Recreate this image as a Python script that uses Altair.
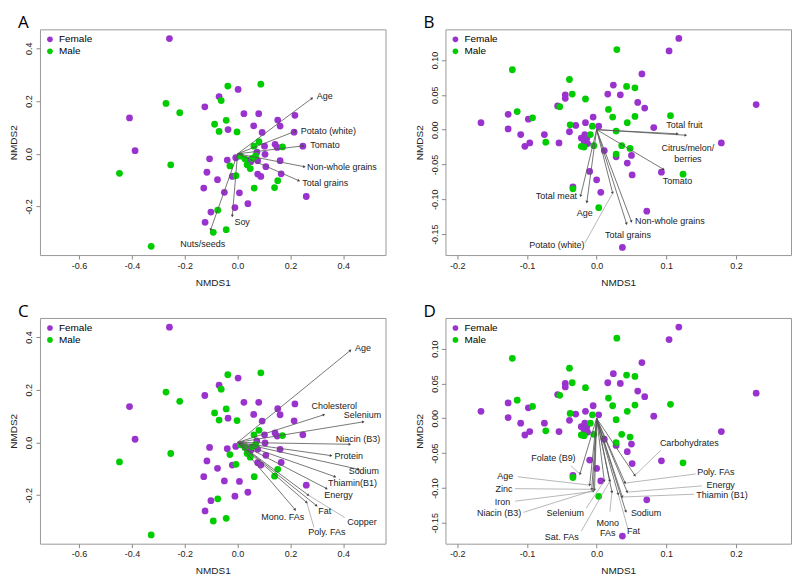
import math
import altair as alt
import pandas as pd

# ---------------- data: ordination of food groups / nutrients (A and C share points) ----------
a_fem_x = [-0.258, -0.409, -0.388, 0.002, -0.070, -0.124, 0.024, 0.080, 0.217, 0.152, 0.161, 0.061,
           -0.036, 0.093, 0.214, 0.247, 0.102, 0.142, 0.150, 0.073, 0.104, 0.042, 0.050, 0.076,
           -0.106, -0.039, -0.007, 0.161, 0.107, 0.165, 0.076, 0.088, -0.116, -0.076, -0.020,
           -0.128, -0.050, 0.007, 0.260, 0.039, -0.010, -0.101, -0.123]
a_fem_y = [0.437, 0.136, 0.012, 0.244, 0.217, 0.178, 0.152, 0.152, 0.146, 0.128, 0.105, 0.106,
           0.092, 0.081, 0.082, 0.029, 0.029, 0.036, 0.024, 0.006, -0.002, -0.024, -0.030, -0.026,
           -0.019, -0.024, -0.015, -0.026, -0.049, -0.076, -0.077, -0.086, -0.070, -0.098, -0.086,
           -0.130, -0.146, -0.148, -0.162, -0.189, -0.204, -0.221, -0.260]
a_male_x = [-0.037, 0.088, -0.271, -0.062, -0.219, -0.087, -0.043, -0.070, -0.002, 0.081, 0.062,
            0.170, 0.011, 0.055, 0.036, 0.048, -0.029, -0.253, -0.447, -0.006, 0.152, 0.063, 0.140,
            -0.075, -0.092, -0.043, -0.327, 0.068, 0.028]
a_male_y = [0.257, 0.264, 0.191, 0.202, 0.156, 0.112, 0.127, 0.085, 0.083, 0.046, 0.029, 0.026,
            -0.009, -0.017, -0.042, -0.056, -0.046, -0.042, -0.074, -0.083, -0.102, -0.130, -0.128,
            -0.214, -0.298, -0.288, -0.351, -0.008, -0.020]

b_fem_x = [0.118, 0.104, 0.065, 0.024, 0.016, 0.034, 0.059, 0.069, 0.229, -0.045, -0.045, -0.056,
           -0.127, -0.166, -0.127, -0.098, -0.109, -0.096, -0.103, -0.075, -0.054, -0.039, -0.030,
           -0.016, -0.005, 0.003, -0.022, -0.018, -0.014, -0.013, -0.017, 0.082, 0.179, 0.011,
           0.028, 0.050, 0.044, 0.051, 0.093, -0.010, 0.000, -0.034, 0.006, 0.072, 0.037]
b_fem_y = [0.131, 0.113, 0.080, 0.064, 0.051, 0.050, 0.039, 0.031, 0.036, 0.050, 0.045, 0.034,
           0.022, 0.010, 0.001, 0.015, -0.007, -0.019, -0.024, -0.007, -0.019, -0.003, 0.006,
           0.010, 0.018, 0.005, -0.012, -0.016, -0.012, -0.020, -0.007, 0.003, -0.019, -0.030,
           -0.039, -0.037, -0.048, -0.065, -0.061, -0.060, -0.072, -0.082, -0.090, -0.117, -0.169]
b_male_x = [0.029, -0.121, -0.039, -0.035, -0.016, 0.043, 0.055, 0.017, 0.023, 0.055, 0.044, 0.106,
            -0.114, -0.092, -0.053, -0.038, -0.006, -0.073, -0.009, 0.028, -0.022, -0.018, -0.004,
            0.036, 0.048, 0.028, 0.124, -0.034, 0.003]
b_male_y = [0.115, 0.086, 0.072, 0.051, 0.044, 0.062, 0.060, 0.029, 0.018, 0.019, 0.010, 0.020,
            0.026, 0.017, 0.033, 0.007, 0.005, -0.018, -0.007, -0.002, -0.024, -0.025, -0.023,
            -0.023, -0.027, -0.035, -0.064, -0.085, -0.112]

# ---------------- arrows (fitted vectors) ----------------
a_names = ["Age", "Potato (white)", "Tomato", "Non-whole grains", "Total grains", "Soy", "Nuts/seeds"]
a_end_x = [0.282, 0.220, 0.247, 0.253, 0.232, -0.020, -0.102]
a_end_y = [0.211, 0.086, 0.030, -0.049, -0.102, -0.236, -0.288]
a_lab_x = [0.300, 0.239, 0.275, 0.263, 0.245, -0.012, -0.132]
a_lab_y = [0.219, 0.085, 0.032, -0.050, -0.109, -0.258, -0.341]
a_align = ["left", "left", "left", "left", "left", "left", "center"]

b_names = ["Total fruit", "Citrus/melon/\nberries", "Tomato", "Total meat", "Age", "Potato (white)",
           "Total grains", "Non-whole grains"]
b_end_x = [0.116, 0.128, 0.096, -0.023, -0.014, 0.023, 0.043, 0.050]
b_end_y = [-0.006, -0.008, -0.057, -0.095, -0.104, -0.091, -0.135, -0.132]
b_lab_x = [0.126, 0.131, 0.116, -0.028, -0.017, -0.057, 0.045, 0.055]
b_lab_y = [0.007, -0.027, -0.074, -0.095, -0.119, -0.165, -0.151, -0.131]
b_align = ["center", "center", "center", "right", "center", "center", "center", "left"]
b_lead_x = [None, None, None, None, None, -0.017, None, None]
b_lead_y = [None, None, None, None, None, -0.163, None, None]

c_names = ["Age", "Cholesterol", "Selenium", "Niacin (B3)", "Protein", "Sodium", "Thiamin(B1)",
           "Energy", "Copper", "Fat", "Poly. FAs", "Mono. FAs"]
c_end_x = [0.427, 0.327, 0.476, 0.425, 0.354, 0.458, 0.369, 0.337, 0.268, 0.299, 0.262, 0.218]
c_end_y = [0.349, 0.105, 0.078, -0.007, -0.050, -0.102, -0.130, -0.175, -0.200, -0.240, -0.228, -0.255]
c_lab_x = [0.475, 0.366, 0.473, 0.456, 0.421, 0.478, 0.435, 0.382, 0.471, 0.330, 0.338, 0.171]
c_lab_y = [0.359, 0.139, 0.104, 0.012, -0.050, -0.109, -0.155, -0.198, -0.303, -0.260, -0.338, -0.282]
c_align = ["center"] * 12
c_lead_x = [None] * 8 + [0.406, None, 0.289, None]
c_lead_y = [None] * 8 + [-0.285, None, -0.322, None]

d_names = ["Carbohydrates", "Poly. FAs", "Energy", "Thiamin (B1)", "Sodium", "Fat", "Mono\nFAs",
           "Sat. FAs", "Selenium", "Folate (B9)", "Age", "Zinc", "Iron", "Niacin (B3)"]
d_end_x = [0.055, 0.041, 0.044, 0.037, 0.042, 0.031, 0.022, 0.019, 0.011, -0.024, -0.010, -0.007, -0.005, -0.003]
d_end_y = [-0.082, -0.093, -0.106, -0.113, -0.134, -0.109, -0.106, -0.090, -0.090, -0.080, -0.096, -0.102, -0.105, -0.103]
d_lab_x = [0.133, 0.171, 0.178, 0.180, 0.071, 0.053, 0.016, -0.050, -0.045, -0.062, -0.131, -0.133, -0.135, -0.140]
d_lab_y = [-0.036, -0.077, -0.096, -0.110, -0.136, -0.162, -0.150, -0.170, -0.136, -0.057, -0.083, -0.102, -0.120, -0.136]
d_align = ["center"] * 14
d_lead_x = [0.092, 0.142, 0.151, 0.140, None, 0.045, 0.019, -0.022, -0.015, -0.037, -0.113, -0.117, -0.117, -0.105]
d_lead_y = [-0.046, -0.080, -0.097, -0.109, None, -0.159, -0.134, -0.162, -0.129, -0.068, -0.084, -0.101, -0.119, -0.135]

a_xdom, a_ydom = [-0.748, 0.560], [-0.384, 0.472]
b_xdom, b_ydom = [-0.217, 0.279], [-0.180, 0.144]
a_xticks, a_yticks = [-0.6, -0.4, -0.2, 0.0, 0.2, 0.4], [-0.2, 0.0, 0.2, 0.4]
b_xticks, b_yticks = [-0.2, -0.1, 0.0, 0.1, 0.2], [-0.15, -0.10, -0.05, 0.0, 0.05, 0.10]

W, H = 346, 226
FONT = "Liberation Sans"
PURPLE, GREEN = "#9A32CD", "#00CD00"


def panel(letter, fx, fy, mx, my, names, ex, ey, lx, ly, aligns, leadx, leady,
          xdom, ydom, xticks, yticks, xfmt, yfmt):
    pts = pd.DataFrame({
        "x": fx + mx, "y": fy + my,
        "Sex": ["Female"] * len(fx) + ["Male"] * len(mx),
    })
    sx = W / (xdom[1] - xdom[0])
    sy = H / (ydom[1] - ydom[0])
    arr = pd.DataFrame({"name": names, "ex": ex, "ey": ey, "lx": lx, "ly": ly, "align": aligns})
    arr["ox"] = 0.0
    arr["oy"] = 0.0
    arr["angle"] = [(math.degrees(math.atan2(-b * sy, a * sx)) + 360) % 360 for a, b in zip(ex, ey)]
    lead = pd.DataFrame({"sx": leadx, "sy": leady, "ex": ex, "ey": ey}).dropna()

    xaxis = alt.Axis(values=xticks, title="NMDS1", grid=False, domain=False,
                     labelExpr=f"replace(format(datum.value, '{xfmt}'), '\u2212', '-')",
                     tickColor="#888", tickSize=4, labelPadding=2, titlePadding=7)
    yaxis = alt.Axis(values=yticks, title="NMDS2", grid=False, domain=False,
                     labelExpr=f"replace(format(datum.value, '{yfmt}'), '\u2212', '-')",
                     labelAngle=-90, labelAlign="center", labelBaseline="bottom",
                     tickColor="#888", tickSize=4, labelPadding=2, titlePadding=6)
    xs = alt.Scale(domain=xdom, nice=False, zero=False)
    ys = alt.Scale(domain=ydom, nice=False, zero=False)

    def X(f):
        return alt.X(f, type="quantitative", scale=xs, axis=xaxis)

    def Y(f):
        return alt.Y(f, type="quantitative", scale=ys, axis=yaxis)

    points = alt.Chart(pts).mark_circle(size=46, opacity=1).encode(
        x=X("x"), y=Y("y"),
        color=alt.Color("Sex:N", scale=alt.Scale(domain=["Female", "Male"], range=[PURPLE, GREEN]),
                        legend=alt.Legend(orient="top-left", title=None, symbolType="circle",
                                          symbolSize=32, labelFontSize=10, labelFont=FONT,
                                          labelColor="black", offset=4, padding=1, rowPadding=2,
                                          symbolStrokeWidth=0)),
    )
    rules = alt.Chart(arr).mark_rule(color="#555", strokeWidth=0.8).encode(
        x=X("ox"), y=Y("oy"), x2="ex", y2="ey")
    heads = alt.Chart(arr).mark_point(shape="triangle-right", filled=True, size=9,
                                      color="#444", opacity=1).encode(
        x=X("ex"), y=Y("ey"), angle=alt.Angle("angle:Q", scale=None))
    layers = [points, rules, heads]
    if len(lead):
        layers.append(alt.Chart(lead).mark_rule(color="#999", strokeWidth=0.7).encode(
            x=X("sx"), y=Y("sy"), x2="ex", y2="ey"))
    for al in ["left", "center", "right"]:
        if al in aligns:
            layers.append(alt.Chart(arr).transform_filter(alt.datum.align == al).mark_text(
                align=al, baseline="middle", fontSize=9, font=FONT, color="#222",
                lineBreak="\n", lineHeight=10.5).encode(x=X("lx"), y=Y("ly"), text="name:N"))
    return alt.layer(*layers).properties(
        width=W, height=H,
        title=alt.TitleParams(letter, anchor="start", frame="group", dx=-22, fontSize=17,
                              fontWeight="normal", font="Open Sans", color="black", offset=-3))


pA = panel("A", a_fem_x, a_fem_y, a_male_x, a_male_y, a_names, a_end_x, a_end_y, a_lab_x, a_lab_y,
           a_align, [None] * 7, [None] * 7, a_xdom, a_ydom, a_xticks, a_yticks, ".1f", ".1f")
pB = panel("B", b_fem_x, b_fem_y, b_male_x, b_male_y, b_names, b_end_x, b_end_y, b_lab_x, b_lab_y,
           b_align, b_lead_x, b_lead_y, b_xdom, b_ydom, b_xticks, b_yticks, ".1f", ".2f")
pC = panel("C", a_fem_x, a_fem_y, a_male_x, a_male_y, c_names, c_end_x, c_end_y, c_lab_x, c_lab_y,
           c_align, c_lead_x, c_lead_y, a_xdom, a_ydom, a_xticks, a_yticks, ".1f", ".1f")
pD = panel("D", b_fem_x, b_fem_y, b_male_x, b_male_y, d_names, d_end_x, d_end_y, d_lab_x, d_lab_y,
           d_align, d_lead_x, d_lead_y, b_xdom, b_ydom, b_xticks, b_yticks, ".1f", ".2f")

row1 = alt.hconcat(pA, pB, spacing=27).resolve_scale(color="independent")
row2 = alt.hconcat(pC, pD, spacing=27).resolve_scale(color="independent")
chart = alt.vconcat(row1, row2, spacing=14).resolve_scale(color="independent").configure_view(
    stroke="#999", strokeWidth=1
).configure_axis(
    labelFont=FONT, titleFont=FONT, labelFontSize=9, titleFontSize=10, titleFontWeight="normal",
    labelColor="#222", titleColor="#222"
).properties(background="white", padding={"left": 0, "top": 5, "right": 0, "bottom": 0})

chart.save("out.html", embed_options={"renderer": "svg", "actions": False})
